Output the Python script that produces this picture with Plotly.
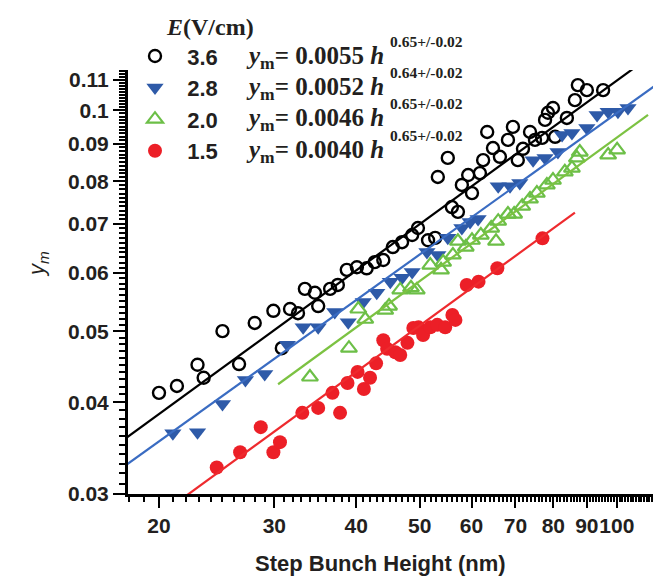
import plotly.graph_objects as go

# Field strengths E (V/cm) and power-law fits y_m = a * h^b
fields = ["3.6", "2.8", "2.0", "1.5"]
prefactors = [0.0055, 0.0052, 0.0046, 0.0040]
exponents = [0.65, 0.64, 0.65, 0.65]
exponent_labels = ["0.65+/-0.02", "0.64+/-0.02", "0.65+/-0.02", "0.65+/-0.02"]
fit_h_start = [17.0, 17.0, 30.4, 21.5]
fit_h_end = [130.0, 130.0, 111.6, 86.3]

# E = 3.6 V/cm
h_36 = [20.0, 21.3, 22.9, 23.4, 25.0, 26.5, 28.0, 29.9, 30.8, 31.7, 32.6, 33.4, 34.6, 35.0,
        36.5, 37.5, 38.7, 40.1, 41.5, 42.7, 44.0, 45.5, 47.0, 48.7, 49.7, 51.5, 52.8, 53.3,
        55.2, 56.0, 57.2, 58.0, 59.3, 60.1, 61.8, 62.5, 63.4, 64.7, 66.3, 68.2, 69.4, 70.6,
        71.9, 73.7, 75.0, 76.9, 77.7, 78.5, 79.9, 80.5, 83.9, 86.3, 87.2, 90.0, 95.3]
ym_36 = [0.0412, 0.0421, 0.0450, 0.0432, 0.0500, 0.0451, 0.0513, 0.0533, 0.0474, 0.0536,
         0.0529, 0.0571, 0.0564, 0.0541, 0.0571, 0.0578, 0.0606, 0.0611, 0.0609, 0.0621,
         0.0625, 0.0651, 0.0661, 0.0676, 0.0691, 0.0665, 0.0670, 0.0811, 0.0861, 0.0738,
         0.0727, 0.0791, 0.0816, 0.0771, 0.0821, 0.0855, 0.0934, 0.0888, 0.0864, 0.0911,
         0.0949, 0.0855, 0.0886, 0.0934, 0.0911, 0.0917, 0.0970, 0.0992, 0.1007, 0.0920,
         0.0976, 0.1032, 0.1082, 0.1065, 0.1065]

# E = 2.8 V/cm
h_28 = [21.0, 22.9, 25.0, 27.1, 29.0, 31.4, 33.2, 35.0, 37.1, 38.9, 41.0, 43.0, 45.1, 47.0,
        48.7, 51.3, 53.3, 55.2, 58.0, 59.7, 61.4, 65.9, 68.7, 71.1, 74.5, 77.7, 81.3, 82.5,
        85.4, 90.0, 93.3, 97.0, 100.4, 104.0]
ym_28 = [0.0363, 0.0364, 0.0398, 0.0429, 0.0437, 0.0479, 0.0506, 0.0506, 0.0531, 0.0514,
         0.0548, 0.0564, 0.0584, 0.0591, 0.0602, 0.0641, 0.0635, 0.0670, 0.0691, 0.0704,
         0.0711, 0.0788, 0.0788, 0.0796, 0.0855, 0.0861, 0.0877, 0.0925, 0.0931, 0.0946,
         0.0985, 0.0995, 0.0995, 0.1007]

# E = 2.0 V/cm
h_20 = [34.0, 39.0, 40.3, 41.3, 44.3, 44.9, 46.7, 48.5, 49.5, 51.9, 53.9, 54.3, 56.2, 57.2,
        58.8, 60.1, 62.0, 64.3, 65.4, 65.9, 68.2, 69.7, 71.7, 73.7, 75.5, 78.2, 79.9, 83.3,
        85.4, 86.9, 87.8, 97.0, 100.1]
ym_20 = [0.0433, 0.0474, 0.0536, 0.0519, 0.0534, 0.0541, 0.0569, 0.0573, 0.0569, 0.0615,
         0.0606, 0.0621, 0.0635, 0.0663, 0.0651, 0.0665, 0.0676, 0.0691, 0.0663, 0.0706,
         0.0722, 0.0722, 0.0740, 0.0757, 0.0771, 0.0791, 0.0803, 0.0824, 0.0834, 0.0861,
         0.0877, 0.0869, 0.0883]

# E = 1.5 V/cm
h_15 = [24.5, 26.6, 28.6, 29.9, 30.6, 33.1, 35.0, 36.8, 37.8, 38.8, 40.2, 41.1, 42.0, 42.9,
        44.0, 44.6, 45.9, 46.7, 47.9, 48.9, 49.8, 50.6, 51.9, 53.2, 54.7, 56.1, 56.7, 59.0,
        61.5, 65.7, 77.0]
ym_15 = [0.0326, 0.0342, 0.0370, 0.0342, 0.0353, 0.0387, 0.0393, 0.0412, 0.0387, 0.0425,
         0.0440, 0.0417, 0.0432, 0.0452, 0.0486, 0.0473, 0.0468, 0.0464, 0.0482, 0.0505,
         0.0506, 0.0494, 0.0506, 0.0510, 0.0506, 0.0526, 0.0518, 0.0578, 0.0584, 0.0609,
         0.0669]

x_major = [20, 30, 40, 50, 60, 70, 80, 90, 100]
x_major_text = ["20", "30", "40", "50", "60", "70", "80", "90", "100"]
y_major = [0.03, 0.04, 0.05, 0.06, 0.07, 0.08, 0.09, 0.10, 0.11]
y_major_text = ["0.03", "0.04", "0.05", "0.06", "0.07", "0.08", "0.09", "0.1", "0.11"]

h_sets = [h_36, h_28, h_20, h_15]
ym_sets = [ym_36, ym_28, ym_20, ym_15]

SANS = "Liberation Sans, Arial, sans-serif"
SERIF = "Liberation Serif, Times New Roman, serif"
INK = "#231f20"
NBSP = "\u00a0"

styles = [
    dict(symbol="circle-open", size=12, color="#000000", line=dict(width=2.4, color="#000000")),
    dict(symbol="triangle-down", size=15, color="#2e5aa8", line=dict(width=0)),
    dict(symbol="triangle-up-open", size=14, color="#6cbf47", line=dict(width=2.2, color="#6cbf47")),
    dict(symbol="circle", size=14, color="#ec1f27", line=dict(width=0)),
]
line_colors = ["#000000", "#3a6cc2", "#7cc242", "#ee2a2e"]

fig = go.Figure()

for i in range(4):
    fig.add_trace(go.Scatter(
        x=h_sets[i], y=ym_sets[i], mode="markers", name=NBSP * 2 + fields[i],
        marker=styles[i],
    ))

# fitted power laws
for i in range(4):
    n = 60
    lo, hi = fit_h_start[i], fit_h_end[i]
    hh = [lo * (hi / lo) ** (k / (n - 1)) for k in range(n)]
    yy = [prefactors[i] * v ** exponents[i] for v in hh]
    fig.add_trace(go.Scatter(
        x=hh, y=yy, mode="lines", showlegend=False, hoverinfo="skip",
        line=dict(color=line_colors[i], width=2.2),
    ))

x_minor = [v for v in range(18, 125) if v % 10 != 0 or v > 100]
y_minor = [round(0.030 + 0.001 * k, 3) for k in range(0, 85)]
y_minor = [v for v in y_minor if round(v * 100, 6) != round(v * 100)]

L, T, W, H = 128, 70, 525, 424

fig.update_layout(
    width=653, height=576,
    margin=dict(l=L, r=0, t=T, b=576 - T - H),
    paper_bgcolor="white", plot_bgcolor="white",
    showlegend=True,
    legend=dict(
        x=(135 - L) / W, y=(494 - 4) / H, xanchor="left", yanchor="top",
        bgcolor="rgba(0,0,0,0)", borderwidth=0,
        font=dict(family=SANS, size=22, color=INK, weight="bold"),
        title=dict(text=NBSP * 5 + "<i>E</i>(V/cm)",
                   font=dict(family=SERIF, size=24, color=INK, weight="bold")),
        itemwidth=30, tracegroupgap=0,
    ),
    xaxis=dict(
        type="log", range=[1.2537, 1.2537 + W / 655],
        showgrid=False, zeroline=False,
        showline=True, linecolor="black", linewidth=3,
        tickmode="array", tickvals=x_major, ticktext=x_major_text, tickangle=0,
        ticks="outside", ticklen=11, tickwidth=2, tickcolor="black",
        tickfont=dict(family=SANS, size=21, color=INK, weight="bold"),
        minor=dict(tickmode="array", tickvals=x_minor, ticks="outside",
                   ticklen=5, tickwidth=1.5, tickcolor="black", showgrid=False),
    ),
    yaxis=dict(
        type="log", range=[-1.52288, -1.52288 + H / 734],
        showgrid=False, zeroline=False,
        showline=True, linecolor="black", linewidth=3,
        tickmode="array", tickvals=y_major, ticktext=y_major_text,
        ticks="outside", ticklen=12, tickwidth=2, tickcolor="black",
        tickfont=dict(family=SANS, size=21, color=INK, weight="bold"),
        minor=dict(tickmode="array", tickvals=y_minor, ticks="outside",
                   ticklen=6, tickwidth=1.5, tickcolor="black", showgrid=False),
    ),
)

annotations = []
# fit formulas beside the legend entries
for i in range(4):
    row_y = 57.5 + 31.2 * i
    annotations.append(dict(
        xref="paper", yref="paper", x=(244 - L) / W, y=(494 - row_y) / H,
        xanchor="left", yanchor="middle", showarrow=False,
        text="<i>y</i><sub>m</sub>= %.4f <i>h</i>" % prefactors[i],
        font=dict(family=SERIF, size=25, color=INK, weight="bold"),
    ))
    annotations.append(dict(
        xref="paper", yref="paper", x=(388 - L) / W, y=(494 - row_y + 16) / H,
        xanchor="left", yanchor="middle", showarrow=False,
        text=exponent_labels[i],
        font=dict(family=SERIF, size=15.5, color=INK, weight="bold"),
    ))

# axis titles
annotations.append(dict(
    xref="paper", yref="paper", x=(380 - L) / W, y=(494 - 563) / H,
    xanchor="center", yanchor="middle", showarrow=False,
    text="Step Bunch Height (nm)",
    font=dict(family=SANS, size=22, color=INK, weight="bold"),
))
annotations.append(dict(
    xref="paper", yref="paper", x=(38 - L) / W, y=(494 - 264) / H,
    xanchor="center", yanchor="middle", showarrow=False, textangle=-90,
    text="<i>y</i><sub><i>m</i></sub>",
    font=dict(family=SANS, size=22, color=INK),
))
fig.update_layout(annotations=annotations)

fig.write_html("out.html")
